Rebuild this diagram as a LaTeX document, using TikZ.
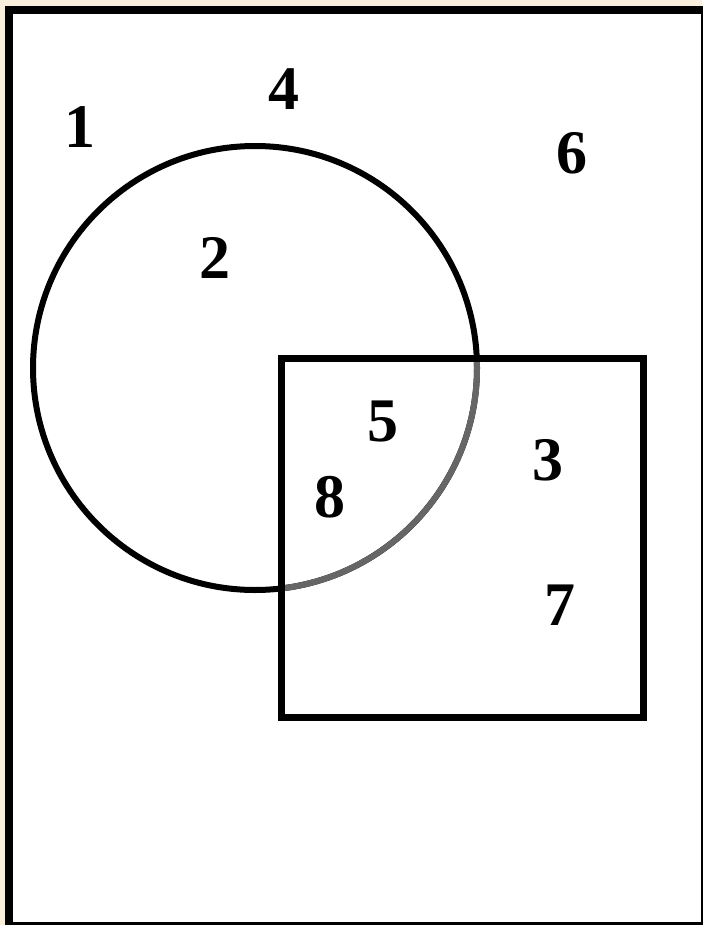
\documentclass[tikz,border=0pt]{standalone}
\usepackage{fontspec}
\setmainfont{Liberation Serif}
\definecolor{bgbeige}{HTML}{F9EFDC}
\definecolor{arcgray}{HTML}{666666}
\tikzset{
  lbl/.style={inner sep=0pt, font=\fontsize{62}{62}\selectfont\bfseries},
  frameline/.style={line width=8pt, draw=black, fill=white},
  shapeline/.style={line width=6pt, draw=black},
}
\begin{document}
\begin{tikzpicture}[x=1pt,y=-1pt]
\fill[bgbeige] (0,0) rectangle (702,925);
\useasboundingbox (0,0) rectangle (702,925);
\draw[frameline] (9,10) rectangle (705,926);
\coordinate (cc) at (255,368);
\draw[shapeline] (cc) circle[radius=222];
\begin{scope}
  \clip (281,358) rectangle (643,717);
  \draw[shapeline, draw=arcgray] (cc) circle[radius=222];
\end{scope}
\draw[shapeline, line width=7pt] (281,358) rectangle (643,717);
\node[lbl] (n1) at (80,127) {1};
\node[lbl] (n4) at (284,89) {4};
\node[lbl] (n6) at (572,153) {6};
\node[lbl] (n2) at (215,258) {2};
\node[lbl] (n5) at (383,422) {5};
\node[lbl] (n8) at (330,497) {8};
\node[lbl] (n3) at (548,460) {3};
\node[lbl] (n7) at (560,605) {7};
\end{tikzpicture}
\end{document}
